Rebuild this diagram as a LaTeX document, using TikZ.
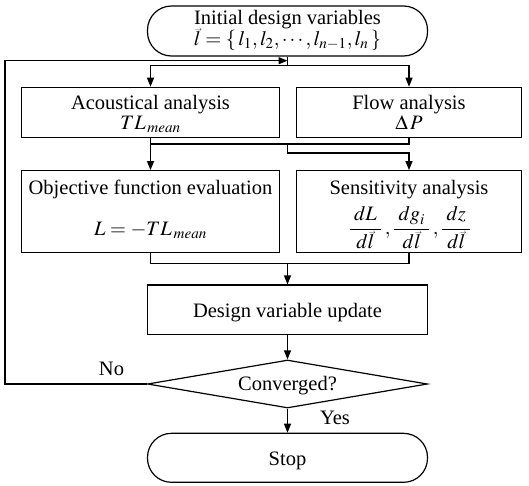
\documentclass[tikz,border=0pt]{standalone}
\usepackage{mathptmx}
\usepackage{fontspec}
\setmainfont{Liberation Serif}
\usetikzlibrary{arrows.meta,shapes.geometric}
\newcommand{\lvec}{\mbox{\ooalign{$l$\cr\hidewidth\kern2pt\raisebox{14pt}{\scalebox{0.35}{$\rightarrow$}}\hidewidth\cr}}}
\tikzset{
	box/.style={shape=rectangle, draw, line width=1.2pt},
	term/.style={shape=rectangle, draw, line width=1.2pt, rounded corners=24pt},
	txt/.style={anchor=base, inner sep=0pt},
	wire/.style={line width=1.2pt},
	arr/.style={line width=1.2pt, -{Triangle[length=9pt, width=7pt]}},
}
\begin{document}
\begin{tikzpicture}[x=1pt, y=-1pt, font=\fontsize{20.5}{24}\selectfont]
	\useasboundingbox (0, 0) rectangle (529, 485);
	% Blocks and their texts:
	\node[term, minimum width=280pt, minimum height=50pt] (start) at (287.5, 31){};
	\node[txt] (startA) at (287.5, 24.5){Initial design variables};
	\node[txt] (startB) at (287.5, 45){$\lvec = \{\, l_1, l_2, \cdots, l_{n-1}, l_n \,\}$};
	\node[box, minimum width=257.6pt, minimum height=50pt] (acou) at (150.5, 112.3){};
	\node[txt] (acouA) at (150.5, 109.5){Acoustical analysis};
	\node[txt] (acouB) at (150.5, 129.5){$TL_{\,mean}$};
	\node[box, minimum width=225.7pt, minimum height=50pt] (flow) at (409, 112.3){};
	\node[txt] (flowA) at (409, 109.5){Flow analysis};
	\node[txt] (flowB) at (409, 129.5){$\Delta\,P$};
	\node[box, minimum width=257.6pt, minimum height=82pt] (obj) at (150.5, 211.7){};
	\node[txt] (objA) at (150.5, 194){Objective function evaluation};
	\node[txt] (objB) at (150.5, 235){$L = -TL_{\,mean}$};
	\node[box, minimum width=225.7pt, minimum height=82pt] (sens) at (409, 211.7){};
	\node[txt] (sensA) at (409, 194){Sensitivity analysis};
	\node[anchor=center, inner sep=0pt] (sensB) at (410, 228){$\displaystyle \frac{\;dL\;}{d\lvec}\,,\frac{\;dg_i\;}{d\lvec}\,,\frac{\;dz\;}{d\lvec}$};
	\node[box, minimum width=280pt, minimum height=49.3pt] (upd) at (287.5, 309.7){};
	\node[txt] (updA) at (287.5, 317){Design variable update};
	\node[shape=diamond, draw, line width=1.2pt, aspect=5.8, inner sep=0pt, minimum width=280pt, minimum height=48pt] (conv) at (287.5, 384){};
	\node[txt] (convA) at (287.5, 390){Converged?};
	\node[term, minimum width=280pt, minimum height=49pt] (stop) at (287.5, 457.8){};
	\node[txt] (stopA) at (287.5, 465){Stop};
	\node[txt] (no) at (111.5, 375){No};
	\node[txt] (yes) at (335, 424){Yes};
	% Wires:
	\coordinate (split) at (287.5, 65.7);
	\coordinate (fbk) at (5, 60.7);
	\coordinate (merge) at (287.5, 60.7);
	\coordinate (joinA) at (287.5, 144);
	\coordinate (joinB) at (287.5, 153);
	\coordinate (joinC) at (287.5, 263.3);
	\draw[wire] (start) -- (split);
	\draw[arr] (split) -| (acou);
	\draw[arr] (split) -| (flow);
	\draw[arr] (acou) -- (obj);
	\draw[wire] (flow) |- (joinA) -- (acou.south |- joinA);
	\draw[arr] (joinA) -- (joinB) -| (sens);
	\draw[wire] (obj) |- (joinC) -| (sens);
	\draw[arr] (joinC) -- (upd);
	\draw[arr] (upd) -- (conv);
	\draw[arr] (conv) -- (stop);
	\draw[arr] (conv) -| (fbk) -- (merge);
\end{tikzpicture}
\end{document}
